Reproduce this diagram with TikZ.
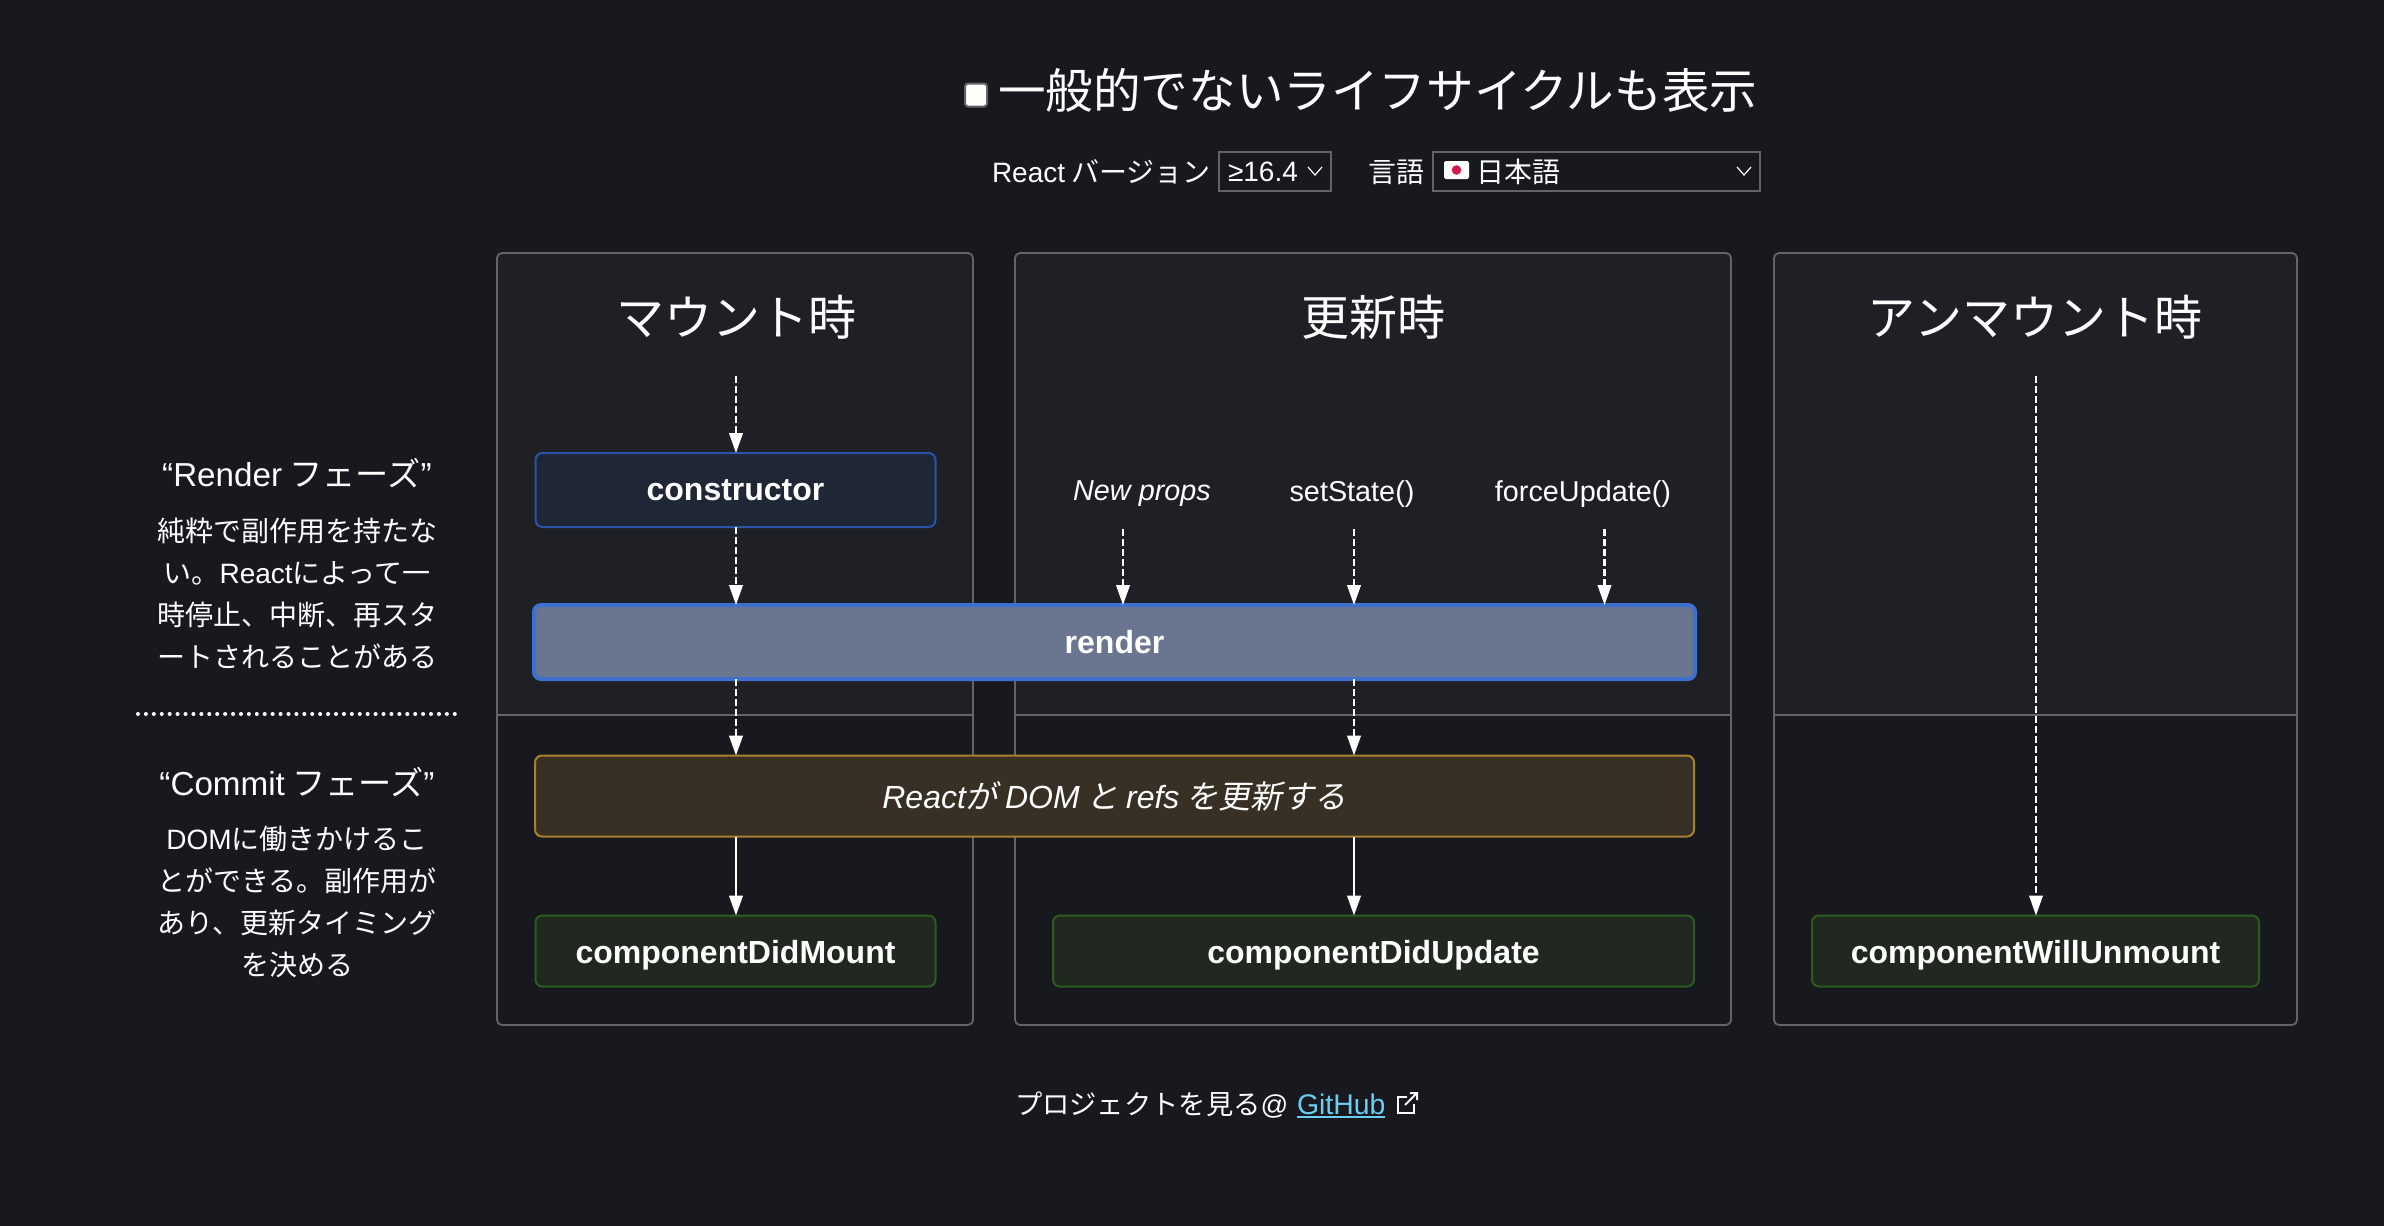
\documentclass[tikz,border=0pt]{standalone}
\usepackage{fontspec}
\usetikzlibrary{arrows.meta}
\setmainfont{Noto Sans CJK JP}
\newfontfamily\jpit[FakeSlant=0.2]{Noto Sans CJK JP}
\newfontfamily\lat{Liberation Sans}
\definecolor{pagebg}{HTML}{17191E}
\definecolor{panelup}{HTML}{1E2025}
\definecolor{panelline}{HTML}{636467}
\definecolor{ctorfill}{HTML}{1F2636}
\definecolor{ctorline}{HTML}{2A54A8}
\definecolor{renderfill}{HTML}{6A758F}
\definecolor{renderline}{HTML}{3F6FCF}
\definecolor{commitfill}{HTML}{393025}
\definecolor{commitline}{HTML}{A8812F}
\definecolor{greenfill}{HTML}{202820}
\definecolor{greenline}{HTML}{2E5B1F}
\definecolor{linkblue}{HTML}{6CCDF2}
\definecolor{flagred}{HTML}{D01C4B}
\tikzset{
  every node/.style={text=white,inner sep=0pt,outer sep=0pt},
  sized/.style 2 args={minimum width=#1*0.5pt,minimum height=#2*0.5pt},
  lcbox/.style={draw,rounded corners=3.5pt,line width=1pt,font=\lat\bfseries\fontsize{16}{18}\selectfont},
  ctorbox/.style={lcbox,fill=ctorfill,draw=ctorline},
  renderbox/.style={lcbox,fill=renderfill,draw=renderline,line width=2pt},
  commitbox/.style={lcbox,fill=commitfill,draw=commitline},
  greenbox/.style={lcbox,fill=greenfill,draw=greenline,text height=13pt,text depth=1pt},
  panelbox/.style={draw=panelline,line width=0.9pt,rounded corners=2.5pt},
  divider/.style={draw=panelline,line width=0.9pt},
  flow/.style={white,line width=1.1pt,-{Triangle[width=6.8pt,length=10pt]}},
  dflow/.style={flow,dash pattern=on 3.25pt off 1.75pt},
  thinflow/.style={dflow,line width=0.9pt},
  title/.style={font=\fontsize{24}{28}\selectfont},
  trigger/.style={font=\lat\fontsize{14.4}{18}\selectfont},
  phasehead/.style={font=\fontsize{16.6}{20}\selectfont},
  phasebody/.style={align=center,font=\fontsize{14}{21}\selectfont},
  menutext/.style={font=\fontsize{14}{18}\selectfont},
  selectbox/.style={draw=panelline,line width=1pt},
  chevron/.style={white,line width=0.6pt},
}
\newcommand{\upperfill}[2]{\fill[panelup] (#1,715) [rounded corners=2.5pt] -- (#1,253) -- (#2,253) [sharp corners] -- (#2,715) -- cycle;}
\begin{document}
\begin{tikzpicture}[x=0.5pt,y=-0.5pt]
\useasboundingbox (0,0) rectangle (2384,1226);
\fill[pagebg] (0,0) rectangle (2384,1226);

% header
\node[draw=panelline,fill=white,rounded corners=1.5pt,line width=1pt,sized={22}{23}] (check) at (976,95) {};
\node[anchor=west,font=\fontsize{23.8}{28}\selectfont] (showall) at (998,90) {一般的でないライフサイクルも表示};
\node[menutext,anchor=west] (verlabel) at (992,172) {{\lat React} バージョン};
\node[selectbox,sized={112}{39}] (versel) at (1275,171.5) {};
\node[anchor=west,font=\lat\fontsize{14}{18}\selectfont] (vertext) at (1228,172) {≥16.4};
\node[menutext,anchor=west] (langlabel) at (1368,172) {言語};
\node[selectbox,sized={327}{39}] (langsel) at (1596.5,171.5) {};
\fill[white,rounded corners=0.8pt] (1444,161) rectangle (1469,179);
\fill[flagred] (1456.5,170) circle (2.4pt);
\node[menutext,anchor=west] (langtext) at (1476,172) {日本語};
\draw[chevron] (1308,167) -- (1315,175) -- (1322,167);
\draw[chevron] (1737,167) -- (1744,175) -- (1751,167);

% panels
\upperfill{497}{973}
\upperfill{1015}{1731}
\upperfill{1774}{2297}
\node[panelbox,sized={476}{772}] (mount) at (735,639) {};
\node[panelbox,sized={716}{772}] (update) at (1373,639) {};
\node[panelbox,sized={523}{772}] (unmount) at (2035.5,639) {};
\draw[divider] (mount.west |- 0,715) -- (mount.east |- 0,715);
\draw[divider] (update.west |- 0,715) -- (update.east |- 0,715);
\draw[divider] (unmount.west |- 0,715) -- (unmount.east |- 0,715);

\node[title] (mounttitle) at (736,317) {マウント時};
\node[title] (updatetitle) at (1373,317) {更新時};
\node[title] (unmounttitle) at (2035,317) {アンマウント時};

% side text
\node[phasehead] (renderhead) at (297,473) {{\lat “Render} フェーズ{\lat ”}};
\node[phasebody] (renderbody) at (297,593) {純粋で副作用を持たな\\い。{\lat React}によって一\\時停止、中断、再スタ\\ートされることがある};
\draw[white,line width=2pt,line cap=round,dash pattern=on 0pt off 3.96pt] (138,714) -- (456,714);
\node[phasehead] (commithead) at (297,782) {{\lat “Commit} フェーズ{\lat ”}};
\node[phasebody] (commitbody) at (297,902) {{\lat DOM}に働きかけるこ\\とができる。副作用が\\あり、更新タイミング\\を決める};

% boxes
\node[ctorbox,sized={400}{74}] (ctor) at (735.5,490) {constructor};
\node[renderbox,sized={1161}{74}] (render) at (1114.5,642) {render};
\node[commitbox,sized={1159}{81},font=\fontsize{16}{18}\selectfont] (commit) at (1114.5,796) {{\lat\itshape React}{\jpit が} {\lat\itshape DOM} {\jpit と} {\lat\itshape refs} {\jpit を更新する}};
\node[greenbox,sized={400}{71}] (didmount) at (735.5,951) {componentDidMount};
\node[greenbox,sized={641}{71}] (didupdate) at (1373.5,951) {componentDidUpdate};
\node[greenbox,sized={447}{71}] (willunmount) at (2035.5,951) {componentWillUnmount};

% triggers
\node[trigger,font=\lat\itshape\fontsize{14.4}{18}\selectfont] (newprops) at (1142,494) {New props};
\node[trigger] (setstate) at (1352,494) {setState()};
\node[trigger] (forceupdate) at (1583,494) {forceUpdate()};

% connector anchors
\coordinate (mx) at (736,376);
\coordinate (ux) at (1354,529);
\coordinate (nx) at (1123,529);
\coordinate (fx) at (1604.5,529);
\coordinate (wx) at (2036,376);

\draw[dflow] (mx) -- (mx |- ctor.north);
\draw[dflow] (mx |- ctor.south) -- (mx |- render.north);
\draw[dflow] (mx |- render.south) -- (mx |- commit.north);
\draw[flow] (mx |- commit.south) -- (mx |- didmount.north);
\draw[dflow] (nx) -- (nx |- render.north);
\draw[dflow] (ux) -- (ux |- render.north);
\draw[dflow] (fx) -- (fx |- render.north);
\draw[dflow] (ux |- render.south) -- (ux |- commit.north);
\draw[flow] (ux |- commit.south) -- (ux |- didupdate.north);
\draw[thinflow] (wx) -- (wx |- willunmount.north);

% footer
\node[anchor=west,font=\fontsize{13.65}{18}\selectfont] (footer) at (1015,1105) {プロジェクトを見る{\lat @}};
\node[anchor=west,text=linkblue,font=\lat\fontsize{14.2}{18}\selectfont] (github) at (1297,1104) {GitHub};
\draw[linkblue,line width=1pt] (github.west |- 0,1117) -- (github.east |- 0,1117);
\draw[white,line width=1pt] (1407,1097) -- (1398,1097) -- (1398,1113) -- (1414,1113) -- (1414,1104);
\draw[white,line width=1pt] (1405,1105) -- (1417,1093) (1410,1093) -- (1417,1093) -- (1417,1100);
\end{tikzpicture}
\end{document}
